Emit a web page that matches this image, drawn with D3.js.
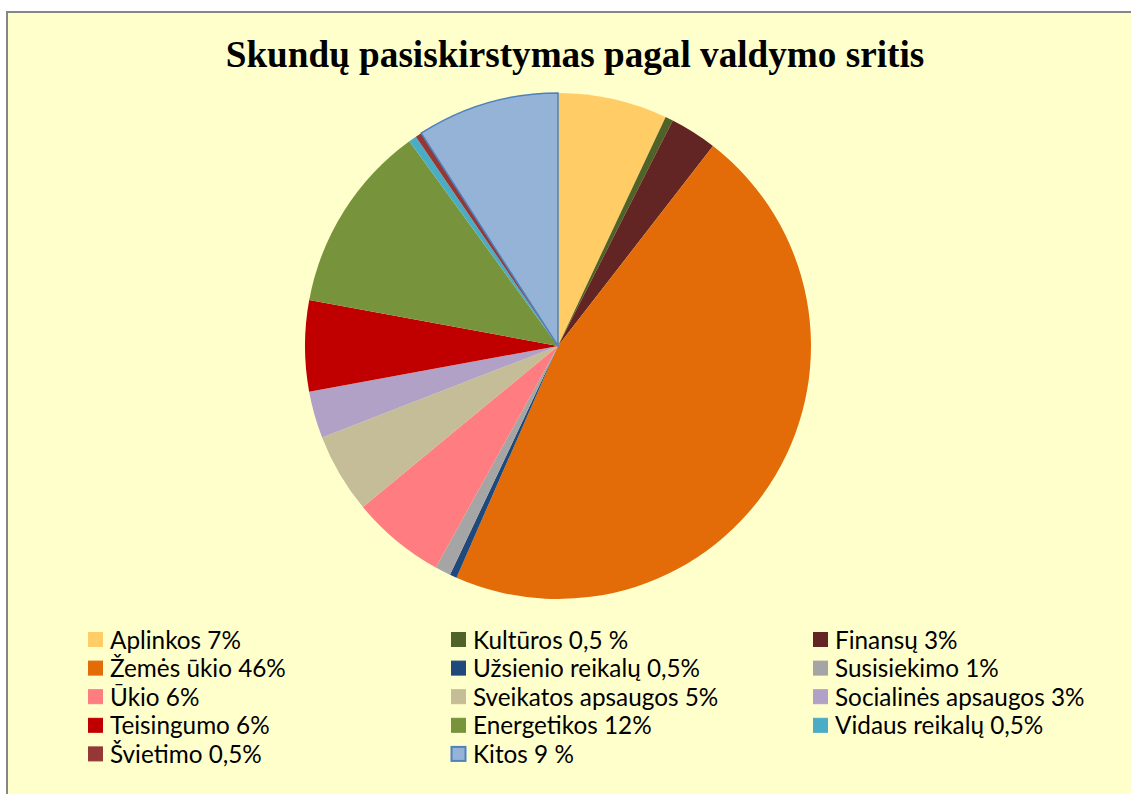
<html lang="lt">
<head>
<meta charset="utf-8">
<title>Skundų pasiskirstymas</title>
<script src="https://d3js.org/d3.v7.min.js"></script>
<style>
  body { margin: 0; background: #fff; }
</style>
</head>
<body>
<div id="chart"></div>
<script>
// slices, clockwise from 12 o'clock
var names = ["Aplinkos", "Kultūros", "Finansų", "Žemės ūkio", "Užsienio reikalų", "Susisiekimo",
             "Ūkio", "Sveikatos apsaugos", "Socialinės apsaugos", "Teisingumo", "Energetikos",
             "Vidaus reikalų", "Švietimo", "Kitos"];
var values = [7, 0.5, 3, 46.1, 0.45, 1, 6, 5.1, 3, 5.8, 12.1, 0.5, 0.4, 9.1];
var labels = ["Aplinkos 7%", "Kultūros 0,5 %", "Finansų 3%", "Žemės ūkio 46%", "Užsienio reikalų 0,5%",
              "Susisiekimo 1%", "Ūkio 6%", "Sveikatos apsaugos 5%", "Socialinės apsaugos 3%",
              "Teisingumo 6%", "Energetikos 12%", "Vidaus reikalų 0,5%", "Švietimo 0,5%", "Kitos 9 %"];
var colors = ["#FFCC66", "#4F6228", "#632523", "#E36C09", "#1F497D", "#A5A5A5", "#FF7C80",
              "#C4BD97", "#B2A1C7", "#C00000", "#77933C", "#4BACC6", "#953735", "#95B3D7"];

var width = 1131, height = 794;

var svg = d3.select("#chart").append("svg")
    .attr("width", width)
    .attr("height", height);

// chart area (frame runs off the right and bottom edge)
svg.append("rect")
    .attr("x", 7).attr("y", 12)
    .attr("width", width + 10).attr("height", height + 10)
    .attr("fill", "#FFFFCC")
    .attr("stroke", "#868686")
    .attr("stroke-width", 2);

svg.append("text")
    .attr("x", 575).attr("y", 67)
    .attr("text-anchor", "middle")
    .style("font-family", "'Liberation Serif', 'Times New Roman', serif")
    .style("font-weight", "bold")
    .style("font-size", "37.2px")
    .text("Skundų pasiskirstymas pagal valdymo sritis");

var pie = d3.pie().sort(null).value(function(d) { return d; });
var arc = d3.arc().innerRadius(0).outerRadius(253);

var g = svg.append("g").attr("transform", "translate(558,346)");

g.selectAll("path")
    .data(pie(values))
    .enter().append("path")
    .attr("d", arc)
    .attr("fill", function(d, i) { return colors[i]; })
    .attr("stroke", function(d, i) { return i == 13 ? "#4F81BD" : "none"; })
    .attr("stroke-width", 1.5);

// legend: 3 columns, filled row by row
var colX = [88, 451, 813];
var rowY = 640, rowStep = 28.6;

var leg = svg.selectAll(".leg")
    .data(labels)
    .enter().append("g")
    .attr("class", "leg")
    .attr("transform", function(d, i) {
        return "translate(" + colX[i % 3] + "," + (rowY + Math.floor(i / 3) * rowStep) + ")";
    });

leg.append("rect")
    .attr("x", 0.5).attr("y", -7.5)
    .attr("width", 14).attr("height", 14)
    .attr("fill", function(d, i) { return colors[i]; })
    .attr("stroke", function(d, i) { return i == 13 ? "#4F81BD" : colors[i]; })
    .attr("stroke-width", function(d, i) { return i == 13 ? 2 : 1; });

leg.append("text")
    .attr("x", 22).attr("y", 8.5)
    .style("font-family", "Lato, 'Open Sans', sans-serif")
    .style("font-size", "24.3px")
    .attr("fill", "#000")
    .text(function(d) { return d; });
</script>
</body>
</html>
